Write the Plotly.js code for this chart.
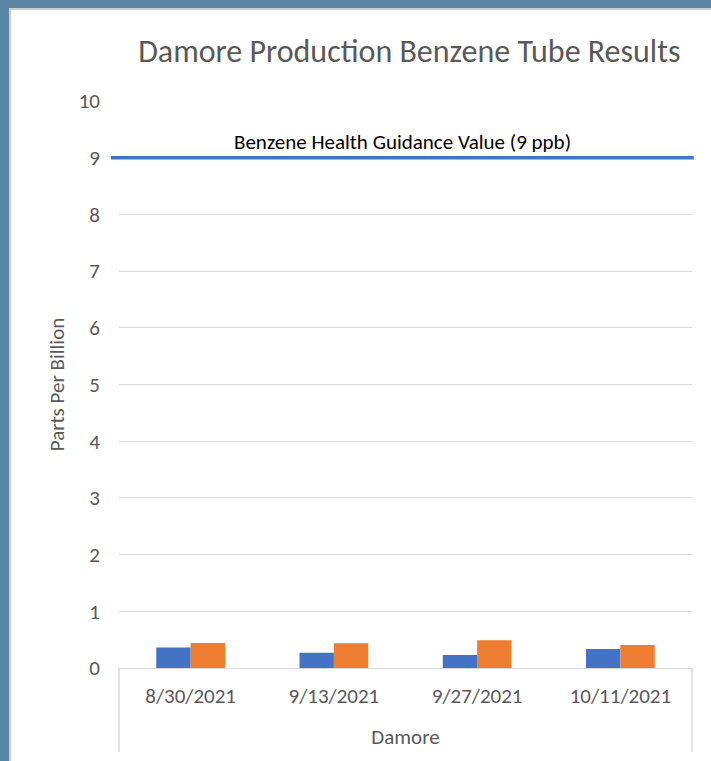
<!DOCTYPE html>
<html>
<head>
<meta charset="utf-8">
<script src="https://cdn.plot.ly/plotly-3.0.1.min.js"></script>
<style>
  html, body { margin: 0; padding: 0; width: 711px; height: 761px; background: #5b86a4; overflow: hidden; }
  #frame { position: absolute; left: 9px; top: 8px; width: 702px; height: 753px; background: #d0d0d0; }
  #chart { position: absolute; left: 11px; top: 10px; width: 700px; height: 751px; background: #ffffff; }
</style>
</head>
<body>
<div id="frame"></div>
<div id="chart"></div>
<script>
const groupLabel = "Damore";
const dates = ["8/30/2021", "9/13/2021", "9/27/2021", "10/11/2021"];
const seriesA = [0.36, 0.27, 0.23, 0.335];
const seriesB = [0.44, 0.435, 0.49, 0.405];
const guidanceValue = 9;
const guidanceLabel = "Benzene Health Guidance Value (9 ppb)";
const yTicks = [0, 1, 2, 3, 4, 5, 6, 7, 8, 9, 10];

const fontFam = "Carlito, Calibri, 'Open Sans', sans-serif";

const traces = [
  { type: "bar", x: dates, y: seriesA, marker: { color: "#4472c4" }, showlegend: false, hoverinfo: "y" },
  { type: "bar", x: dates, y: seriesB, marker: { color: "#ed7d31" }, showlegend: false, hoverinfo: "y" }
];

const layout = {
  width: 700, height: 751,
  margin: { l: 108, r: 19, t: 91, b: 93, pad: 0 },
  paper_bgcolor: "#ffffff", plot_bgcolor: "#ffffff",
  font: { family: fontFam, color: "#595959" },
  title: { text: "Damore Production Benzene Tube Results", font: { size: 32, color: "#595959", family: fontFam, weight: 300 },
           x: 0.569, xanchor: "center", y: 0.946, yanchor: "middle" },
  barmode: "group", bargap: 0.52, bargroupgap: 0,
  xaxis: {
    type: "category", categoryarray: dates, showgrid: false, showline: true, linecolor: "#d9d9d9", linewidth: 1,
    ticks: "", ticklabelstandoff: 9, tickfont: { size: 21, color: "#595959" }, zeroline: false,
    title: { text: groupLabel, font: { size: 21, color: "#595959" }, standoff: 21 }
  },
  yaxis: {
    range: [0, 10], tickvals: yTicks, ticktext: yTicks.map(String), showgrid: true, gridcolor: "#d9d9d9", gridwidth: 1,
    zeroline: false, showline: false, ticks: "", ticklabelstandoff: 18,
    tickfont: { size: 21, color: "#595959" },
    title: { text: "Parts Per Billion", font: { size: 21, color: "#595959" }, standoff: 8 }
  },
  shapes: [
    { type: "line", xref: "paper", yref: "y", x0: -0.014, x1: 1.003, y0: guidanceValue, y1: guidanceValue,
      line: { color: "#4472c4", width: 3.5 } },
    { type: "line", xref: "paper", yref: "paper", x0: 0, x1: 0, y0: 0, y1: -0.148,
      line: { color: "#d9d9d9", width: 1.5 } },
    { type: "line", xref: "paper", yref: "paper", x0: 1, x1: 1, y0: 0, y1: -0.148,
      line: { color: "#d9d9d9", width: 1.5 } }
  ],
  annotations: [
    { text: guidanceLabel, xref: "paper", yref: "y", x: 0.494, y: guidanceValue, yshift: 16, showarrow: false,
      font: { size: 21, color: "#000000", family: fontFam }, xanchor: "center", yanchor: "middle" }
  ]
};

Plotly.newPlot("chart", traces, layout, { displayModeBar: false, staticPlot: true });
</script>
</body>
</html>
